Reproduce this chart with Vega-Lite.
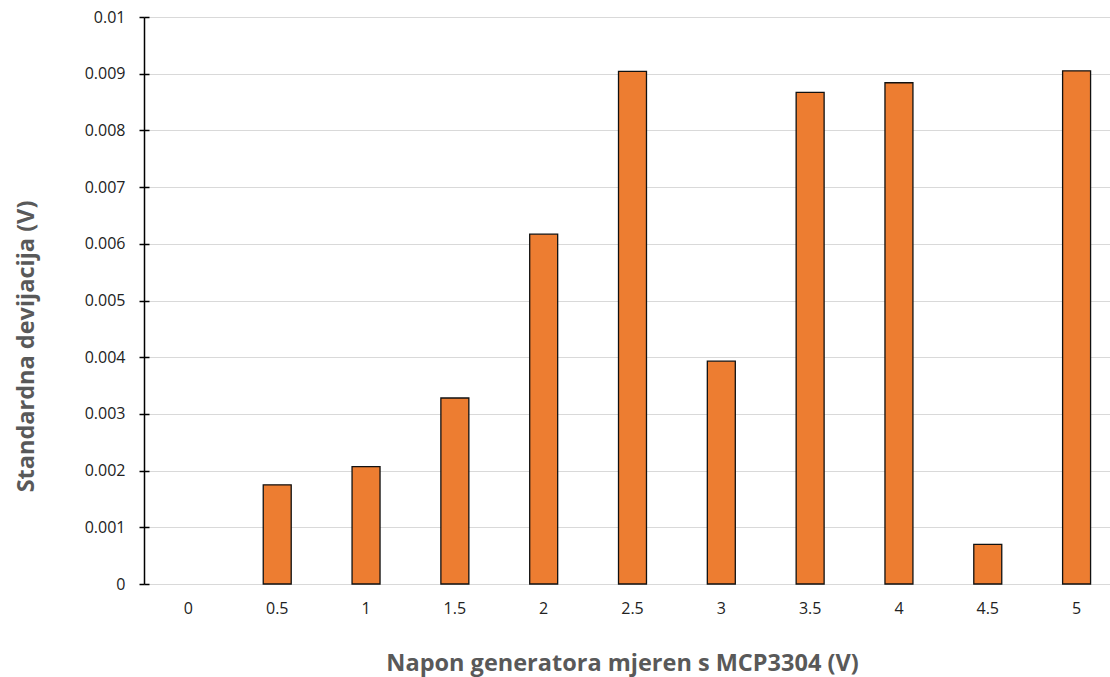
{
  "$schema": "https://vega.github.io/schema/vega-lite/v6.json",
  "autosize": {"type": "none"},
  "width": 966,
  "height": 567,
  "padding": {"left": 144, "top": 17, "right": 0, "bottom": 93},
  "background": "white",
  "config": {"view": {"stroke": null}, "font": "Open Sans"},
  "data": {"values": [
    {"x": "0", "sd": 0},
    {"x": "0.5", "sd": 0.00175},
    {"x": "1", "sd": 0.00207},
    {"x": "1.5", "sd": 0.00328},
    {"x": "2", "sd": 0.00617},
    {"x": "2.5", "sd": 0.00904},
    {"x": "3", "sd": 0.00393},
    {"x": "3.5", "sd": 0.00867},
    {"x": "4", "sd": 0.00884},
    {"x": "4.5", "sd": 0.0007},
    {"x": "5", "sd": 0.00905}
  ]},
  "encoding": {
    "x": {
      "field": "x", "type": "ordinal", "sort": null,
      "scale": {"domain": ["0", "0.5", "1", "1.5", "2", "2.5", "3", "3.5", "4", "4.5", "5"], "paddingInner": 0.685, "paddingOuter": 0.3425, "range": [0, 977]},
      "axis": {"title": "Napon generatora mjeren s MCP3304 (V)", "labelAngle": 0, "domain": false, "ticks": false,
        "labelPadding": 16, "labelFontSize": 16, "labelColor": "#222", "labelFont": "Open Sans",
        "titleFont": "Open Sans", "titleFontSize": 23.5, "titleColor": "#595959", "titleFontWeight": "bold",
        "titleX": 478, "titleY": 86, "titleBaseline": "alphabetic", "titleAnchor": "middle", "titleAlign": "center"}
    }
  },
  "layer": [
    {
      "transform": [{"filter": "datum.sd > 0"}],
      "mark": {"type": "bar", "color": "#ED7D31", "stroke": "#111", "strokeWidth": 1.3},
      "encoding": {
        "y": {"field": "sd", "type": "quantitative",
          "scale": {"domain": [0, 0.01], "nice": false},
          "axis": {"title": "Standardna devijacija (V)", "values": [0,0.001,0.002,0.003,0.004,0.005,0.006,0.007,0.008,0.009,0.01],
            "labelExpr": "datum.value == 0 ? '0' : format(datum.value, '.3~f')",
            "domainColor": "#000", "domainWidth": 1.5, "tickColor": "#000", "tickWidth": 1.5, "tickSize": 5,
            "gridColor": "#d9d9d9", "gridWidth": 1.2, "labelPadding": 14, "labelFontSize": 16, "labelColor": "#222", "labelFont": "Open Sans",
            "titleFont": "Open Sans", "titleFontSize": 23.5, "titleColor": "#595959", "titleFontWeight": "bold",
            "titleX": -111, "titleY": 329, "titleBaseline": "alphabetic", "titleAngle": 270, "titleAlign": "center"}
        }
      }
    },
    {
      "mark": {"type": "bar", "opacity": 0},
      "encoding": {
        "y": {"field": "sd", "type": "quantitative",
          "scale": {"domain": [0, 0.01], "nice": false},
          "axis": {"orient": "left", "title": null, "labels": false, "grid": false, "domain": false,
            "values": [0,0.001,0.002,0.003,0.004,0.005,0.006,0.007,0.008,0.009,0.01],
            "tickColor": "#000", "tickWidth": 1.5, "tickSize": -5}
        }
      }
    }
  ],
  "resolve": {"axis": {"y": "independent"}}
}
